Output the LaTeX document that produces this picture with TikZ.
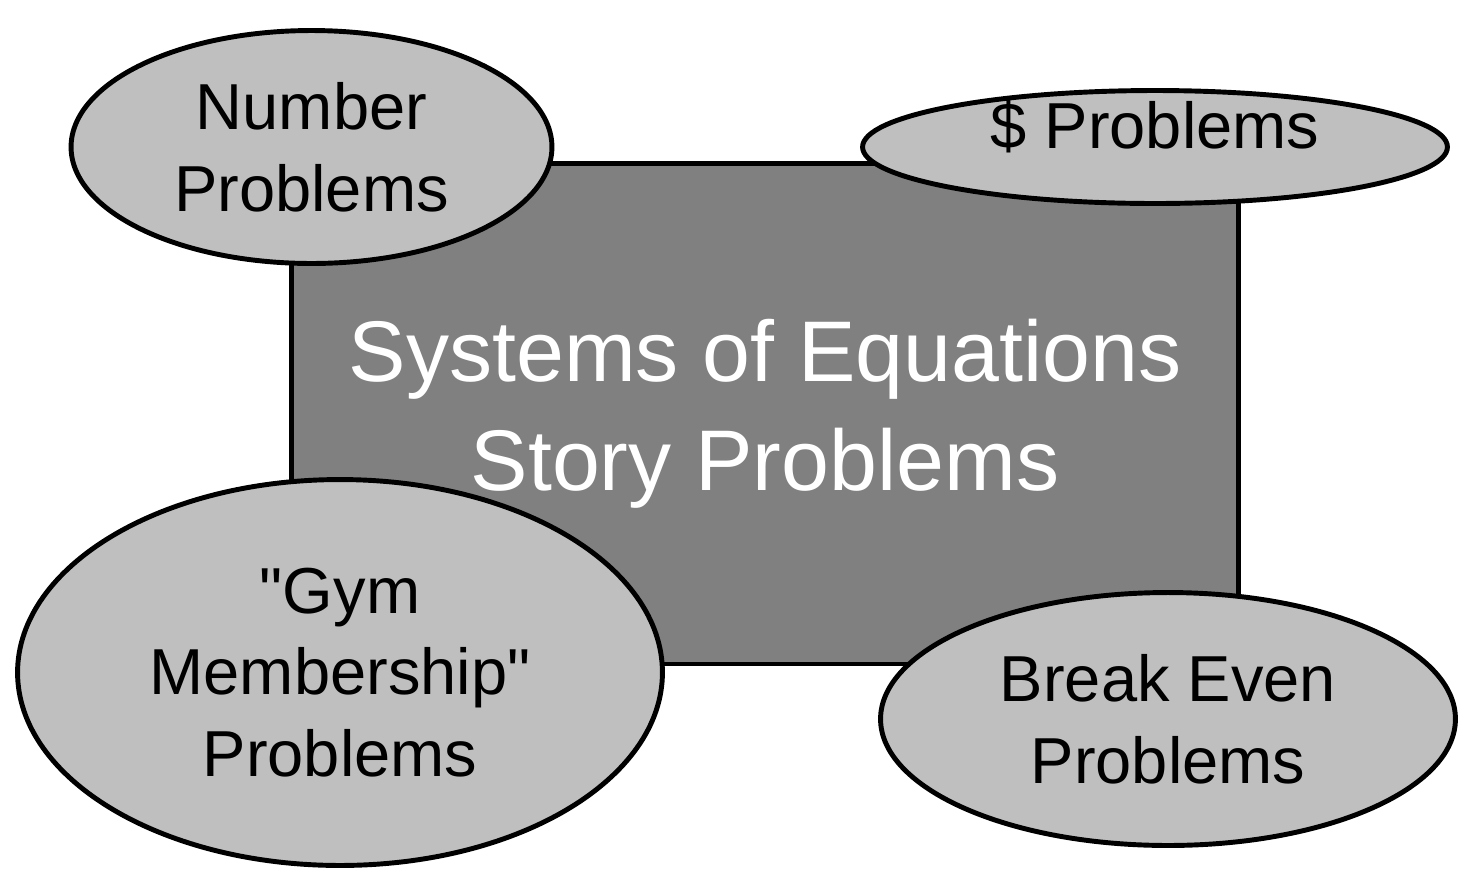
\documentclass[tikz,border=0pt]{standalone}
\usepackage{fontspec}
\setmainfont{Liberation Sans}[Ligatures=TeXOff]
\usepackage{xcolor}
\usetikzlibrary{shapes,positioning}
\definecolor{boxgray}{gray}{0.5}
\definecolor{bubblegray}{gray}{0.75}

\begin{document}
\begin{tikzpicture}[x=0.02cm, y=-0.02cm,
    bubble/.style={ellipse, draw=black, line width=2.8pt, fill=bubblegray, inner sep=0pt, align=center, font=\fontsize{37}{46.5}\selectfont},
    mainbox/.style={rectangle, draw=black, line width=2.8pt, fill=boxgray, inner sep=0pt, align=center, text=white, font=\fontsize{49}{62}\selectfont}]
        \useasboundingbox (0,0) rectangle (1461,870);
        % Main topic
        \node[mainbox, minimum width=18.94cm, minimum height=10.02cm] (topic) at (765,413.5) {Systems of Equations\\Story Problems};
        
        % Problem types
        \node[bubble, minimum width=9.62cm, minimum height=4.66cm] (number) at (311.5,147) {Number\\Problems};
        \node[bubble, minimum width=11.7cm, minimum height=2.26cm, text height=0.4em, text depth=0.28em] (money) at (1155,147) {\$ Problems};
        \node[bubble, minimum width=12.9cm, minimum height=7.72cm] (gym) at (340,672.5) {"Gym\\Membership"\\Problems};
        \node[bubble, minimum width=11.5cm, minimum height=5.06cm] (breakeven) at (1168,719) {Break Even\\Problems};
    \end{tikzpicture}
\end{document}
